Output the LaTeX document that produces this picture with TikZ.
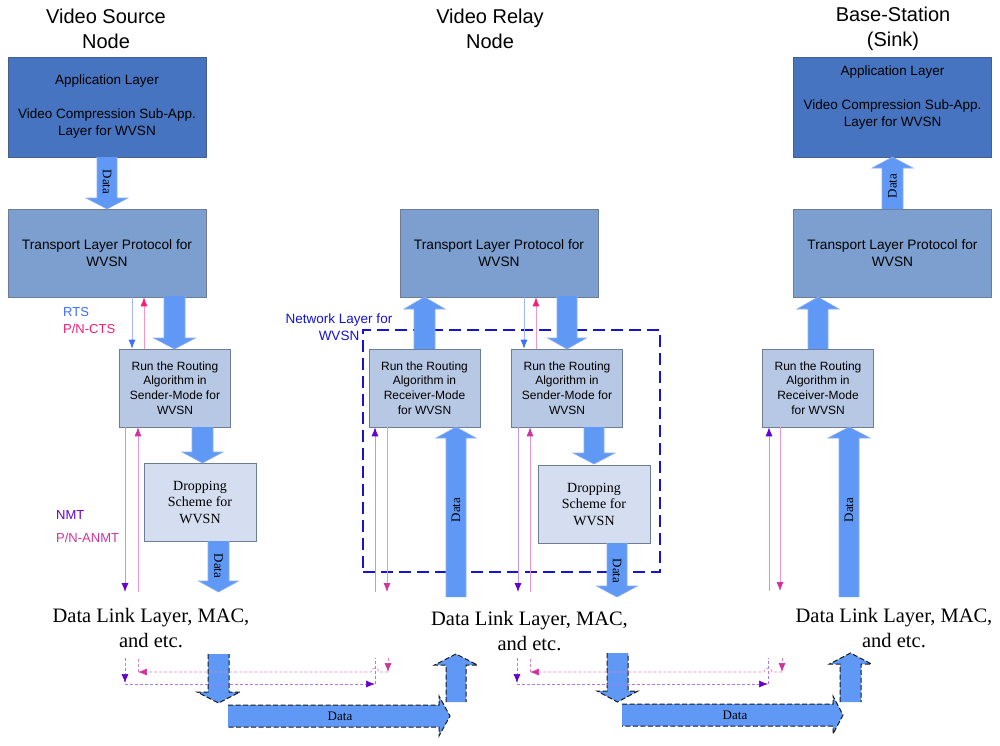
\documentclass[tikz,border=0pt]{standalone}
\usepackage{fontspec}
\setmainfont{Liberation Serif}
\setsansfont{Liberation Sans}
\usetikzlibrary{arrows.meta}

\definecolor{appfill}{RGB}{70,116,192}
\definecolor{appline}{RGB}{70,95,140}
\definecolor{trfill}{RGB}{124,159,207}
\definecolor{rtfill}{RGB}{183,200,228}
\definecolor{drfill}{RGB}{212,222,240}
\definecolor{boxline}{RGB}{110,125,150}
\definecolor{arrfill}{RGB}{96,152,246}
\definecolor{arrline}{RGB}{140,175,235}
\definecolor{rtsblue}{RGB}{60,110,255}
\definecolor{rtsline}{RGB}{160,180,250}
\definecolor{ctspink}{RGB}{245,30,120}
\definecolor{ctsline}{RGB}{245,150,200}
\definecolor{nmtpurple}{RGB}{100,0,210}
\definecolor{nmtline}{RGB}{190,150,240}
\definecolor{anmtpink}{RGB}{210,50,160}
\definecolor{anmtline}{RGB}{235,150,210}
\definecolor{netblue}{RGB}{20,20,210}

\newcommand{\vblk}[7][]{%
  \fill[blkfill] (#2-#3,#5) -- (#2-#3,#6) -- (#2-#4,#6) -- (#2,#7) -- (#2+#4,#6) -- (#2+#3,#6) -- (#2+#3,#5) -- cycle;
  \draw[blkline,#1] (#2-#3,#5) -- (#2-#3,#6) -- (#2-#4,#6) -- (#2,#7) -- (#2+#4,#6) -- (#2+#3,#6) -- (#2+#3,#5);}
\newcommand{\hblk}[7][]{%
  \fill[blkfill] (#5,#2-#3) -- (#6,#2-#3) -- (#6,#2-#4) -- (#7,#2) -- (#6,#2+#4) -- (#6,#2+#3) -- (#5,#2+#3) -- cycle;
  \draw[blkline,#1] (#5,#2-#3) -- (#6,#2-#3) -- (#6,#2-#4) -- (#7,#2) -- (#6,#2+#4) -- (#6,#2+#3) -- (#5,#2+#3);}

\tikzset{
  blkfill/.style={fill=arrfill},
  blkline/.style={draw=arrline,line width=0.6pt,line join=miter},
  blkdash/.style={draw=black!90,dash pattern=on 5pt off 2.5pt,line width=1pt},
  basebox/.style={draw=boxline,line width=0.6pt,inner sep=0pt,align=center},
  appbox/.style={basebox,draw=appline,fill=appfill,minimum width=198pt,minimum height=100pt,
     font=\sffamily\fontsize{13.5}{17}\selectfont},
  trbox/.style={basebox,fill=trfill,minimum width=198pt,minimum height=88pt,
     font=\sffamily\fontsize{13.7}{17}\selectfont},
  rtbox/.style={basebox,fill=rtfill,minimum width=111pt,minimum height=78pt,
     font=\sffamily\fontsize{12}{14.7}\selectfont},
  drbox/.style={basebox,fill=drfill,minimum width=112pt,minimum height=78pt,
     font=\rmfamily\fontsize{14}{16.5}\selectfont},
  title/.style={align=center,inner sep=0pt,font=\sffamily\fontsize{20}{25}\selectfont},
  dll/.style={align=center,inner sep=0pt,font=\rmfamily\fontsize{20.5}{25}\selectfont},
  datalbl/.style={inner sep=0pt,font=\rmfamily\fontsize{13}{15}\selectfont},
  sig/.style={inner sep=0pt,anchor=west,font=\sffamily\fontsize{13}{15}\selectfont},
  rtsarr/.style={draw=rtsline,line width=0.8pt,-{Latex[color=rtsblue,length=9pt,width=7pt]}},
  ctsarr/.style={draw=ctsline,line width=0.8pt,-{Latex[color=ctspink,length=9pt,width=7pt]}},
  nmtarr/.style={draw=nmtline,line width=0.8pt,-{Latex[color=nmtpurple,length=9pt,width=7pt]}},
  anmtarr/.style={draw=anmtline,line width=0.8pt,-{Latex[color=anmtpink,length=9pt,width=7pt]}},
  nmtdash/.style={draw=nmtline!80!nmtpurple,line width=0.7pt,dash pattern=on 3pt off 2pt},
  anmtdash/.style={draw=anmtline!80!anmtpink,line width=0.7pt,dash pattern=on 3pt off 2pt},
  nmttip/.style={-{Latex[color=nmtpurple,length=9pt,width=7pt]}},
  anmttip/.style={-{Latex[color=anmtpink,length=9pt,width=7pt]}},
}

\begin{document}
\begin{tikzpicture}[x=1pt,y=-1pt]
\useasboundingbox (0,0) rectangle (1000,745);

% titles
\node[title] (t1) at (106,28.5) {Video Source\\Node};
\node[title] (t2) at (490,28.5) {Video Relay\\Node};
\node[title] (t3) at (893,28.5) {Base-Station\\(Sink)};

% network layer frame
\node[draw=netblue,line width=2pt,dash pattern=on 12pt off 6pt,minimum width=297pt,minimum height=242pt,inner sep=0pt] (net) at (511.5,451) {};
\node[align=center,inner sep=0pt,text=netblue,font=\sffamily\fontsize{13.5}{17}\selectfont] (netlbl) at (339,327.5) {Network Layer for\\WVSN};

% boxes
\node[appbox] (app1) at (107,107) {Application Layer\\\mbox{}\\Video Compression Sub-App.\\Layer for WVSN};
\node[appbox] (app3) at (892.5,107) {};
\node[align=center,inner sep=0pt,font=\sffamily\fontsize{13.5}{17}\selectfont] (app3t) at ([yshift=9.5pt]app3.center) {Application Layer\\\mbox{}\\Video Compression Sub-App.\\Layer for WVSN};

\node[trbox] (tl) at (107,253) {Transport Layer Protocol for\\WVSN};
\node[trbox] (tm) at (499,253) {Transport Layer Protocol for\\WVSN};
\node[trbox] (tr) at (892.5,253) {Transport Layer Protocol for\\WVSN};

\node[rtbox] (rsL) at (175,388) {Run the Routing\\Algorithm in\\Sender-Mode for\\WVSN};
\node[rtbox] (rrM) at (424.5,388) {Run the Routing\\Algorithm in\\Receiver-Mode\\for WVSN};
\node[rtbox] (rsM) at (567,388) {Run the Routing\\Algorithm in\\Sender-Mode for\\WVSN};
\node[rtbox] (rrR) at (818,388) {Run the Routing\\Algorithm in\\Receiver-Mode\\for WVSN};

\node[drbox] (dL) at (200,502) {Dropping\\Scheme for\\WVSN};
\node[drbox] (dM) at (594,504) {Dropping\\Scheme for\\WVSN};

% data link labels
\node[dll] (dll1) at (151,628) {Data Link Layer, MAC,\\and etc.};
\node[dll] (dll2) at (529.5,631) {Data Link Layer, MAC,\\and etc.};
\node[dll] (dll3) at (894,628.5) {Data Link Layer, MAC,\\and etc.};

% block arrows - left
\vblk{107}{10}{21}{157}{198}{209}
\node[datalbl,rotate=-90] (d1) at (107,182) {Data};
\vblk{174.5}{10.5}{21}{296}{338}{349}
\vblk{202.5}{10.5}{20.5}{427}{452}{463}
\vblk{218.5}{10.5}{20}{541}{581}{592}
\node[datalbl,rotate=-90] (d2) at (218.5,566) {Data};

% block arrows - middle
\vblk{424.5}{10.5}{20.5}{349}{309}{297}
\vblk{456}{10}{20}{597}{438}{427}
\node[datalbl,rotate=90] (d3) at (456,510) {Data};
\vblk{567}{10}{19.5}{296}{338}{349}
\vblk{594}{10}{21}{427}{453}{464}
\vblk{617}{10}{20.5}{543}{586}{597}
\node[datalbl,rotate=-90] (d4) at (617,571) {Data};

% block arrows - right
\vblk{818}{10}{21}{349}{309}{297}
\vblk{849}{10}{21}{597}{438}{427}
\node[datalbl,rotate=90] (d5) at (849,510) {Data};
\vblk{892.5}{10.5}{20.5}{209}{168}{157}
\node[datalbl,rotate=90] (d6) at (892.5,186) {Data};

% signal labels
\node[sig,text=rtsblue] (lrts) at (63,312) {RTS};
\node[sig,text=ctspink] (lcts) at (63,329) {P/N-CTS};
\node[sig,text=nmtpurple] (lnmt) at (56,515) {NMT};
\node[sig,text=anmtpink] (lanmt) at (56,538) {P/N-ANMT};

% thin arrows - left
\coordinate (cL1) at (125,592);
\coordinate (cL2) at (138,592);
\draw[rtsarr] ([xshift=25pt]tl.south) -- ([xshift=-43pt]rsL.north);
\draw[ctsarr] ([xshift=-31pt]rsL.north) -- ([xshift=37pt]tl.south);
\draw[nmtarr] ([xshift=-50pt]rsL.south) -- (cL1);
\draw[anmtarr] (cL2) -- ([xshift=-37pt]rsL.south);

% thin arrows - middle
\coordinate (cM1) at (375,592);
\coordinate (cM2) at (387,592);
\coordinate (cM3) at (518,592);
\coordinate (cM4) at (530,592);
\draw[nmtarr] (cM1) -- ([xshift=-49.5pt]rrM.south);
\draw[anmtarr] ([xshift=-37.5pt]rrM.south) -- (cM2);
\draw[rtsarr] ([xshift=25pt]tm.south) -- ([xshift=-43pt]rsM.north);
\draw[ctsarr] ([xshift=-31pt]rsM.north) -- ([xshift=37pt]tm.south);
\draw[nmtarr] ([xshift=-49pt]rsM.south) -- (cM3);
\draw[anmtarr] (cM4) -- ([xshift=-37pt]rsM.south);

% thin arrows - right
\coordinate (cR1) at (769,591);
\coordinate (cR2) at (780,591);
\draw[nmtarr] (cR1) -- ([xshift=-49pt]rrR.south);
\draw[anmtarr] ([xshift=-38pt]rrR.south) -- (cR2);

% bottom link - left group
\vblk[blkdash]{218.5}{10.5}{21.5}{654}{692}{703}
\hblk[blkdash]{716}{11}{20}{228}{439}{450}
\node[datalbl] (d7) at (340,716) {Data};
\vblk[blkdash]{456}{10}{21.5}{702}{665}{654}

\coordinate (p1) at (125,658);
\coordinate (p2) at (125,683);
\coordinate (p3) at (125,684);
\coordinate (p4) at (375,684);
\coordinate (p5) at (375,658);
\draw[nmtdash,nmttip] (p1) -- (p2);
\draw[nmtdash,nmttip] (p3) -- (p4);
\draw[nmtdash] (p4) -- (p5);
\coordinate (q1) at (388,658);
\coordinate (q2) at (388,672);
\coordinate (q3) at (379,672);
\coordinate (q4) at (138,672);
\coordinate (q5) at (138,658);
\draw[anmtdash,anmttip] (q1) -- (q2);
\draw[anmtdash,anmttip] (q2) -- (q3) arc[start angle=0,end angle=180,radius=4pt] -- (q4);
\draw[anmtdash] (q4) -- (q5);

% bottom link - middle group
\vblk[blkdash]{617.5}{10.5}{20.5}{653}{691}{702}
\hblk[blkdash]{715}{11}{19}{622}{833}{843}
\node[datalbl] (d8) at (735,715) {Data};
\vblk[blkdash]{850.5}{10.5}{21}{702}{664}{653}

\coordinate (r1) at (517,658);
\coordinate (r2) at (517,683);
\coordinate (r3) at (517,684);
\coordinate (r4) at (768,684);
\coordinate (r5) at (768,658);
\draw[nmtdash,nmttip] (r1) -- (r2);
\draw[nmtdash,nmttip] (r3) -- (r4);
\draw[nmtdash] (r4) -- (r5);
\coordinate (s1) at (782,658);
\coordinate (s2) at (782,672);
\coordinate (s3) at (772,672);
\coordinate (s4) at (530,672);
\coordinate (s5) at (530,658);
\draw[anmtdash,anmttip] (s1) -- (s2);
\draw[anmtdash,anmttip] (s2) -- (s3) arc[start angle=0,end angle=180,radius=4pt] -- (s4);
\draw[anmtdash] (s4) -- (s5);
\end{tikzpicture}
\end{document}
